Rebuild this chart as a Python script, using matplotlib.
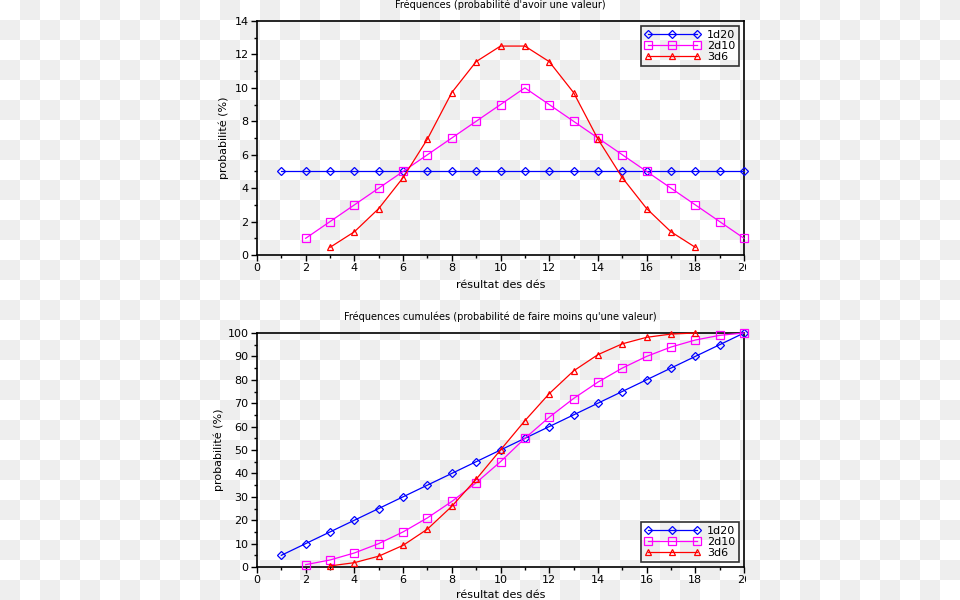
import numpy as np
import matplotlib
matplotlib.use("Agg")
import matplotlib.pyplot as plt
from matplotlib.colors import ListedColormap
from matplotlib.transforms import Bbox

plt.rcParams['font.family'] = ['DejaVu Sans']

x_1d20 = list(range(1, 21))
p_1d20 = [5.0] * 20
x_2d10 = list(range(2, 21))
p_2d10 = [1, 2, 3, 4, 5, 6, 7, 8, 9, 10, 9, 8, 7, 6, 5, 4, 3, 2, 1]
x_3d6 = list(range(3, 19))
p_3d6 = [0.46, 1.39, 2.78, 4.63, 6.94, 9.72, 11.57, 12.5, 12.5, 11.57,
         9.72, 6.94, 4.63, 2.78, 1.39, 0.46]

c_1d20 = [5, 10, 15, 20, 25, 30, 35, 40, 45, 50, 55, 60, 65, 70, 75, 80, 85, 90, 95, 100]
c_2d10 = [1, 3, 6, 10, 15, 21, 28, 36, 45, 55, 64, 72, 79, 85, 90, 94, 97, 99, 100]
c_3d6 = [0.46, 1.85, 4.63, 9.26, 16.2, 25.93, 37.5, 50.0, 62.5, 74.07,
         83.8, 90.74, 95.37, 98.15, 99.54, 100.0]

labels = ["1d20", "2d10", "3d6"]
title_top = "Fréquences (probabilité d'avoir une valeur)"
title_bot = "Fréquences cumulées (probabilité de faire moins qu'une valeur)"
xlabel = "résultat des dés"
ylabel = "probabilité (%)"

W, H = 960, 600
fig = plt.figure(figsize=(W / 100, H / 100), dpi=100)

# checkerboard background (transparency pattern)
bg = fig.add_axes([0, 0, 1, 1], zorder=-10)
ny, nx = H // 20, W // 20
board = (np.add.outer(np.arange(ny), np.arange(nx)) % 2)
bg.imshow(board, cmap=ListedColormap(["#ffffff", "#eeeeee"]), interpolation="nearest",
          aspect="auto", extent=[0, W, H, 0])
bg.set_axis_off()

def px_axes(x0, y0, x1, y1):
    return fig.add_axes([x0 / W, 1 - y1 / H, (x1 - x0) / W, (y1 - y0) / H])

ax1 = px_axes(257, 21, 744, 255)
ax2 = px_axes(257, 333, 744, 567)

styles = [
    dict(color="#0000ff", marker="D", markersize=4.3, markerfacecolor="none", markeredgewidth=0.9, lw=0.9),
    dict(color="#ff00ff", marker="s", markersize=6.0, markerfacecolor="none", markeredgewidth=0.9, lw=0.9),
    dict(color="#ff0000", marker="^", markersize=4.3, markerfacecolor="none", markeredgewidth=0.9, lw=0.9),
]

def setup(ax, ymax, ystep, title, ylab_pad, xlab_pad):
    ax.set_facecolor("none")
    ax.set_xlim(0, 20)
    ax.set_ylim(0, ymax)
    ax.set_xticks(range(0, 21, 2))
    ax.set_xticks(range(0, 21, 1), minor=True)
    ax.set_yticks(np.arange(0, ymax + 0.01, ystep))
    ax.set_yticks(np.arange(0, ymax + 0.01, ystep / 2), minor=True)
    ax.tick_params(which="major", direction="out", length=4, width=1, labelsize=8, pad=2)
    ax.tick_params(which="minor", direction="out", length=2, width=1)
    for s in ax.spines.values():
        s.set_linewidth(1.2)
        s.set_color("black")
    ax.set_title(title, fontsize=7, pad=9)
    ax.set_xlabel(xlabel, fontsize=8, labelpad=xlab_pad)
    ax.set_ylabel(ylabel, fontsize=8, labelpad=ylab_pad)

setup(ax1, 14, 2, title_top, 4, 5)
setup(ax2, 100, 10, title_bot, 3, 3)

for ax, data in [(ax1, [(x_1d20, p_1d20), (x_2d10, p_2d10), (x_3d6, p_3d6)]),
                 (ax2, [(x_1d20, c_1d20), (x_2d10, c_2d10), (x_3d6, c_3d6)])]:
    for (xs, ys), st, lab in zip(data, styles, labels):
        ax.plot(xs, ys, label=lab, clip_on=False, zorder=3, **st)

leg_kw = dict(fontsize=8, numpoints=3, handlelength=5.0, frameon=True, fancybox=False,
              borderpad=0.35, labelspacing=0.1, handletextpad=0.6, borderaxespad=0.45)
l1 = ax1.legend(loc="upper right", **leg_kw)
l2 = ax2.legend(loc="lower right", **leg_kw)
for l in (l1, l2):
    fr = l.get_frame()
    fr.set_facecolor("none")
    fr.set_edgecolor("black")
    fr.set_linewidth(1.2)

fig.canvas.draw()
# clip the last x tick label at the right edge like in the reference
clipbox = Bbox.from_extents(0, 0, 746, H)
for ax in (ax1, ax2):
    for t in ax.get_xticklabels():
        t.set_clip_box(clipbox)
        t.set_clip_on(True)

fig.savefig("out.png", dpi=100)
